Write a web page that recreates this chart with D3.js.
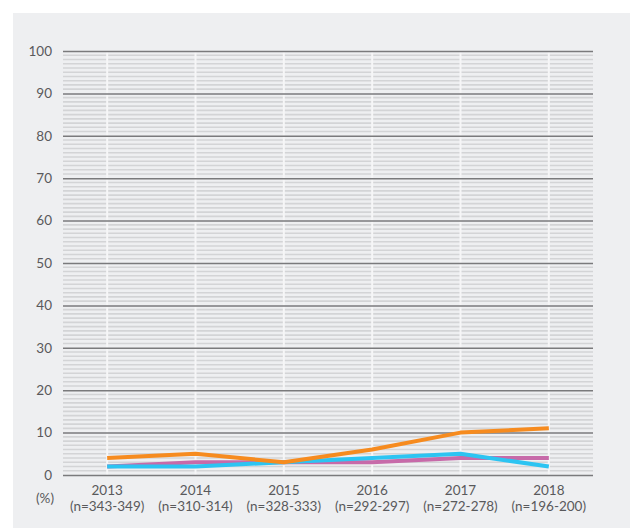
<!DOCTYPE html>
<html><head><meta charset="utf-8">
<script src="https://cdn.jsdelivr.net/npm/d3@7"></script>
<style>body{margin:0;background:#fff;}svg{display:block;}</style>
</head><body>
<script>
const years = ["2013","2014","2015","2016","2017","2018"];
const nRanges = ["(n=343-349)","(n=310-314)","(n=328-333)","(n=292-297)","(n=272-278)","(n=196-200)"];
const orangeVals = [4,5,3,6,10,11];
const pinkVals = [2,3,3,3,4,4];
const blueVals = [2,2,3,4,5,2];
const yTicks = [0,10,20,30,40,50,60,70,80,90,100];

const W=630,H=528;
const svg=d3.select("body").append("svg").attr("width",W).attr("height",H);
svg.append("rect").attr("x",13).attr("y",13).attr("width",W-13).attr("height",H-13).attr("fill","#eeeff1");

const x=d3.scalePoint().domain(years).range([63,593]).padding(0.5);
const y=d3.scaleLinear().domain([0,100]).range([475,51]);
const font="Lato, sans-serif";

// minor gridlines
const minor=d3.range(1,100).filter(v=>v%10!==0);
svg.append("g").selectAll("line").data(minor).join("line")
  .attr("x1",63).attr("x2",593).attr("y1",d=>y(d)).attr("y2",d=>y(d))
  .attr("stroke","#d3d4d6").attr("stroke-width",1.6);
// vertical light separators
svg.append("g").selectAll("line").data(years).join("line")
  .attr("x1",d=>x(d)).attr("x2",d=>x(d)).attr("y1",51).attr("y2",475)
  .attr("stroke","#f6f6f7").attr("stroke-width",2);
// major gridlines via axis
const yAxis=d3.axisLeft(y).tickValues(yTicks).tickSize(-530).tickFormat(d3.format("d"));
const ga=svg.append("g").attr("transform","translate(63,0)").call(yAxis);
ga.select(".domain").remove();
ga.selectAll(".tick line").attr("stroke","#7a7a7c").attr("stroke-width",1.5);
ga.selectAll(".tick text").attr("x",-11).attr("font-family",font).attr("font-size",13.5).attr("fill","#59595b");

// x labels
const xa=svg.append("g").attr("transform","translate(0,475)").call(d3.axisBottom(x).tickSize(0).tickFormat(""));
xa.select(".domain").remove();
const lbl=svg.append("g").attr("font-family",font).attr("font-size",13.5).attr("fill","#59595b").attr("text-anchor","middle");
lbl.selectAll(".yr").data(years).join("text").attr("x",d=>x(d)).attr("y",494.5).text(d=>d);
lbl.selectAll(".nr").data(years).join("text").attr("x",d=>x(d)).attr("y",511).text((d,i)=>nRanges[i]);
svg.append("text").attr("x",45).attr("y",503).attr("text-anchor","middle").attr("font-family",font).attr("font-size",13.5).attr("fill","#59595b").text("(%)");

const line=d3.line().x((d,i)=>x(years[i])).y(d=>y(d));
[[pinkVals,"#c76aa9"],[blueVals,"#2cc4f2"],[orangeVals,"#f68b1f"]].forEach(([vals,c])=>{
  svg.append("path").datum(vals).attr("d",line).attr("fill","none").attr("stroke",c).attr("stroke-width",4).attr("stroke-linejoin","round");
});
</script>
</body></html>
